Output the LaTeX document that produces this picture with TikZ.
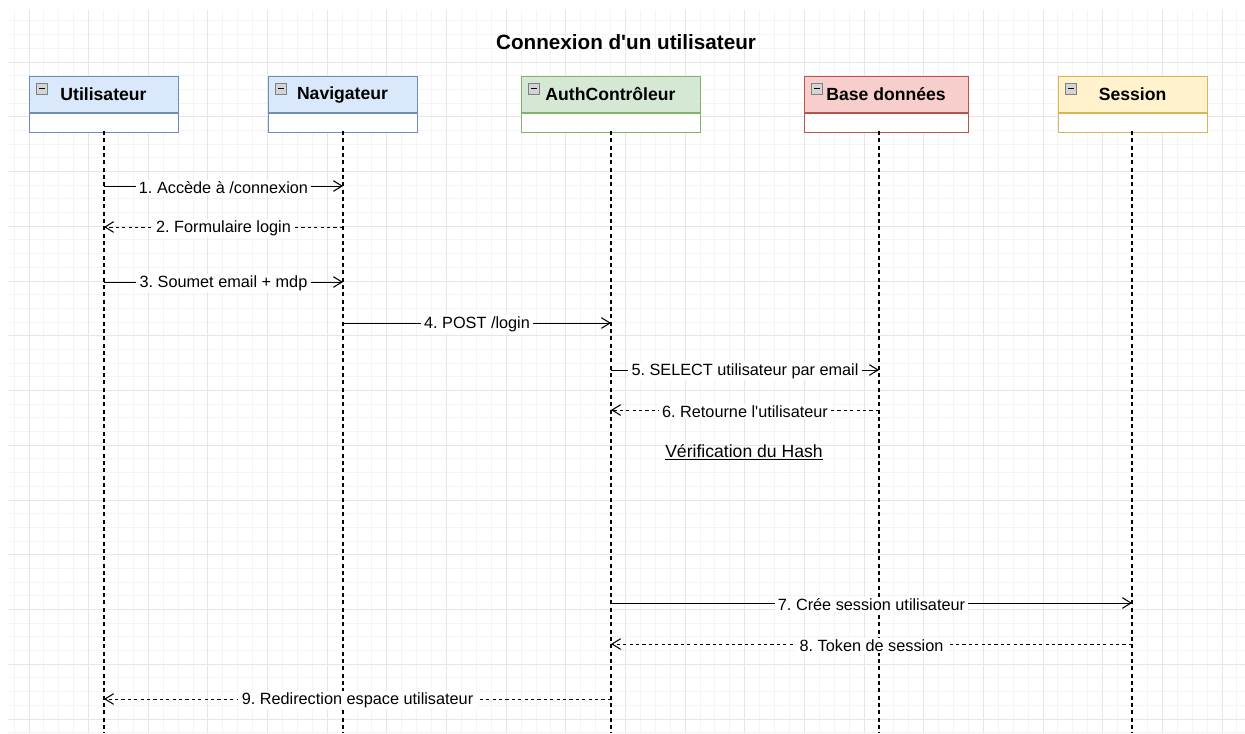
\documentclass[tikz,border=0pt]{standalone}
\usepackage{fontspec}
\setmainfont{Liberation Sans}
\usetikzlibrary{arrows.meta,calc}
\frenchspacing

\definecolor{gridminor}{HTML}{F4F4F4}
\definecolor{gridmajor}{HTML}{E6E6E6}
\definecolor{blueF}{HTML}{DAE8FC}\definecolor{blueD}{HTML}{6C8EBF}
\definecolor{greenF}{HTML}{D5E8D4}\definecolor{greenD}{HTML}{82B366}
\definecolor{redF}{HTML}{F8CECC}\definecolor{redD}{HTML}{B85450}
\definecolor{yellowF}{HTML}{FFF2CC}\definecolor{yellowD}{HTML}{D6B656}
\definecolor{iconF}{HTML}{D4D4D4}\definecolor{iconD}{HTML}{808080}

\tikzset{
  hdr/.style={draw, line width=0.75pt, minimum width=#1*0.75pt, minimum height=36*0.75pt,
    inner sep=0pt, font=\fontsize{13.2}{15}\selectfont\bfseries},
  hdrbody/.style={draw, fill=white, line width=0.75pt, minimum width=#1*0.75pt,
    minimum height=19*0.75pt, inner sep=0pt, anchor=north},
  lifeline/.style={line width=0.9pt, dash pattern=on 3pt off 2.5pt},
  msg/.style={line width=0.75pt, -{Straight Barb[length=6.5pt,width=8pt,line width=0.8pt]}},
  reply/.style={msg, dash pattern=on 2.4pt off 2.4pt},
  lbl/.style={fill=white, inner xsep=2.5pt, inner ysep=1pt, yshift=-1pt,
    font=\fontsize{12.2}{14}\selectfont},
  minusicon/.style={fill=iconF, draw=iconD, line width=0.6pt},
}

% small collapse box in the top-left corner of a participant header
\newcommand{\collapseicon}[1]{%
  \draw[minusicon] ($(#1.north west)+(8,7)$) rectangle ++(11,11);
  \draw[line width=1.1pt] ($(#1.north west)+(10.5,12.5)$) -- ++(6,0);
}

\begin{document}
\begin{tikzpicture}[x=0.75pt,y=-0.75pt]
\useasboundingbox (0,0) rectangle (1245,733);
\fill[white] (0,0) rectangle (1245,733);

% background grid
\foreach \i in {0,...,82} {
  \draw[gridminor, line width=0.75pt] ({14.0875+14.9125*\i},10) -- ({14.0875+14.9125*\i},733);
}
\foreach \i in {0,...,52} {
  \draw[gridminor, line width=0.75pt] (8,{20.94+13.6875*\i}) -- (1245,{20.94+13.6875*\i});
}
\foreach \i in {0,...,20} {
  \draw[gridmajor, line width=0.75pt] ({29+59.65*\i},10) -- ({29+59.65*\i},733);
}
\foreach \i in {0,...,12} {
  \draw[gridmajor, line width=0.75pt] (8,{62+54.75*\i}) -- (1245,{62+54.75*\i});
}

% title
\node[font=\fontsize{15.5}{18}\selectfont\bfseries] (title) at (626,42) {Connexion d\textquotesingle un utilisateur};

% participants
\node[hdr=149, fill=blueF, draw=blueD] (U) at (103.5,94.5) {Utilisateur};
\node[hdrbody=149, draw=blueD] (Ub) at (U.south) {};
\node[hdr=149, fill=blueF, draw=blueD] (N) at (342.5,94.5) {Navigateur};
\node[hdrbody=149, draw=blueD] (Nb) at (N.south) {};
\node[hdr=179, fill=greenF, draw=greenD] (A) at (610.5,94.5) {AuthContrôleur};
\node[hdrbody=179, draw=greenD] (Ab) at (A.south) {};
\node[hdr=164, fill=redF, draw=redD] (B) at (886,94.5) {Base données};
\node[hdrbody=164, draw=redD] (Bb) at (B.south) {};
\node[hdr=149, fill=yellowF, draw=yellowD] (S) at (1132.5,94.5) {Session};
\node[hdrbody=149, draw=yellowD] (Sb) at (S.south) {};

\collapseicon{U}
\collapseicon{N}
\collapseicon{A}
\collapseicon{B}
\collapseicon{S}

% lifelines
\coordinate (lU) at (104,131);  \coordinate (lUe) at (104,733);
\coordinate (lN) at (343,131);  \coordinate (lNe) at (343,733);
\coordinate (lA) at (611,131);  \coordinate (lAe) at (611,733);
\coordinate (lB) at (879,131);  \coordinate (lBe) at (879,733);
\coordinate (lS) at (1132,131); \coordinate (lSe) at (1132,733);
\foreach \p in {U,N,A,B,S} { \draw[lifeline] (l\p) -- (l\p e); }

% messages
\draw[msg]   (lU |- 0,186) -- node[lbl] {1. Accède à /connexion} (lN |- 0,186);
\draw[reply] (lN |- 0,227) -- node[lbl] {2. Formulaire login} (lU |- 0,227);
\draw[msg]   (lU |- 0,282) -- node[lbl] {3. Soumet email + mdp} (lN |- 0,282);
\draw[msg]   (lN |- 0,323) -- node[lbl] {4. POST /login} (lA |- 0,323);
\draw[msg]   (lA |- 0,370) -- node[lbl] {5. SELECT utilisateur par email} (lB |- 0,370);
\draw[reply] (lB |- 0,410) -- node[lbl] {6. Retourne l\textquotesingle utilisateur} (lA |- 0,410);

\node[font=\fontsize{13.2}{15}\selectfont] (hash) at (744,452) {\underline{Vérification du Hash}};

\draw[msg]   (lA |- 0,603) -- node[lbl] {7. Crée session utilisateur} (lS |- 0,603);
\draw[reply] (lS |- 0,644) -- node[lbl] {8. Token de session} (lA |- 0,644);
\draw[reply] (lA |- 0,699) -- node[lbl] {9. Redirection espace utilisateur} (lU |- 0,699);
\end{tikzpicture}
\end{document}
